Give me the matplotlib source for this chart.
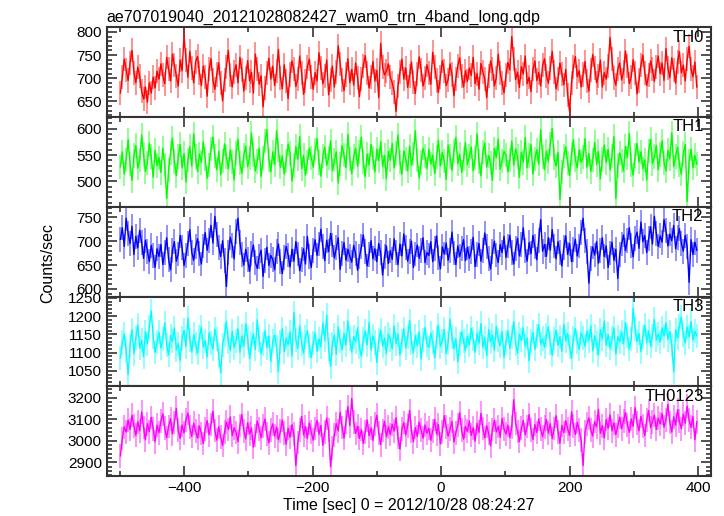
import numpy as np
import matplotlib
matplotlib.use("Agg")
import matplotlib.pyplot as plt
from matplotlib.ticker import MultipleLocator

plt.rcParams['font.family'] = ['Liberation Sans', 'DejaVu Sans']

title = "ae707019040_20121028082427_wam0_trn_4band_long.qdp"
xlabel = "Time [sec] 0 = 2012/10/28 08:24:27"
ylabel = "Counts/sec"
band_names = ["TH0", "TH1", "TH2", "TH3", "TH0123"]
t_start = -499.0
bin_step = 3.0

th0 = [668, 702, 741, 718, 695, 733, 760, 712, 690, 724, 705, 672, 655, 681, 648, 690, 668, 702, 679, 715,
       698, 731, 706, 688, 745, 719, 694, 752, 728, 705, 683, 739, 716, 792, 740, 702, 758, 721, 690, 735,
       747, 712, 684, 726, 703, 661, 719, 742, 695, 676, 708, 733, 689, 651, 697, 724, 760, 706, 681, 713,
       729, 690, 745, 717, 672, 701, 738, 694, 713, 668, 752, 720, 687, 705, 638, 679, 711, 743, 698, 726,
       684, 715, 762, 701, 677, 729, 694, 656, 708, 737, 719, 682, 699, 748, 711, 665, 693, 725, 741, 703,
       676, 712, 694, 755, 722, 688, 705, 739, 664, 697, 726, 681, 714, 770, 731, 696, 673, 708, 742, 690,
       719, 685, 733, 701, 660, 698, 727, 749, 712, 679, 703, 736, 694, 717, 658, 775, 724, 707, 715, 731,
       702, 690, 671, 628, 684, 713, 741, 698, 722, 680, 705, 735, 691, 667, 709, 746, 718, 683, 700, 729,
       711, 687, 756, 724, 695, 670, 703, 738, 715, 684, 697, 731, 708, 662, 699, 727, 744, 705, 681, 716,
       693, 722, 706, 745, 688, 710, 676, 732, 714, 699, 658, 705, 737, 720, 683, 701, 752, 712, 690, 668,
       706, 734, 718, 790, 741, 697, 713, 680, 725, 709, 748, 688, 702, 671, 719, 737, 695, 712, 683, 728,
       742, 705, 689, 721, 758, 714, 677, 698, 733, 710, 686, 719, 664, 628, 690, 725, 747, 703, 716, 681,
       708, 736, 694, 672, 717, 751, 723, 690, 705, 739, 681, 712, 698, 726, 788, 742, 701, 685, 719, 733,
       696, 714, 759, 727, 688, 703, 740, 711, 666, 695, 728, 750, 712, 684, 706, 737, 719, 693, 724, 748,
       710, 733, 695, 764, 722, 701, 744, 718, 689, 736, 757, 712, 728, 694, 741, 769, 720, 703, 735, 681]

th1 = [528, 556, 514, 541, 579, 533, 502, 549, 568, 525, 540, 588, 551, 519, 535, 572, 547, 508, 559, 530,
       545, 517, 563, 531, 468, 522, 554, 582, 538, 511, 547, 570, 526, 553, 499, 541, 566, 529, 590, 547,
       519, 552, 536, 575, 543, 506, 531, 562, 584, 548, 522, 557, 513, 539, 571, 546, 524, 560, 537, 503,
       554, 580, 535, 516, 549, 567, 528, 545, 592, 551, 520, 538, 563, 509, 544, 576, 598, 541, 518, 556,
       532, 596, 559, 527, 548, 514, 539, 571, 553, 501, 530, 566, 542, 585, 524, 549, 512, 537, 563, 545,
       527, 559, 581, 536, 510, 548, 565, 530, 545, 577, 521, 540, 556, 497, 533, 568, 550, 526, 589, 542,
       515, 547, 563, 529, 556, 584, 538, 509, 552, 531, 570, 545, 518, 561, 539, 575, 528, 549, 505, 557,
       540, 572, 526, 553, 588, 537, 514, 558, 543, 520, 567, 531, 552, 596, 541, 507, 536, 563, 548, 524,
       561, 533, 550, 515, 546, 578, 529, 555, 539, 504, 569, 547, 521, 558, 583, 534, 551, 517, 542, 574,
       532, 548, 565, 520, 544, 590, 538, 511, 556, 573, 527, 549, 535, 502, 562, 545, 580, 523, 539, 557,
       550, 518, 541, 576, 531, 562, 547, 508, 555, 536, 583, 526, 549, 570, 514, 543, 560, 533, 598, 546,
       523, 557, 538, 571, 600, 544, 529, 555, 466, 518, 548, 566, 535, 511, 552, 579, 541, 526, 560, 537,
       546, 581, 527, 553, 519, 540, 574, 532, 557, 505, 543, 569, 536, 561, 522, 548, 585, 468, 530, 554,
       539, 520, 566, 545, 591, 531, 512, 549, 572, 537, 556, 524, 541, 503, 558, 580, 534, 547, 568, 522,
       551, 577, 536, 520, 559, 543, 592, 528, 547, 565, 531, 514, 553, 570, 462, 538, 561, 526, 549, 533]

th2 = [704, 728, 689, 748, 716, 695, 731, 672, 710, 686, 723, 698, 664, 702, 679, 657, 691, 670, 645, 684,
       668, 693, 651, 676, 707, 662, 640, 681, 699, 658, 673, 712, 686, 649, 670, 695, 724, 677, 660, 688,
       705, 674, 652, 690, 718, 681, 702, 733, 696, 752, 714, 687, 668, 701, 659, 605, 676, 708, 691, 663,
       721, 748, 697, 672, 650, 683, 661, 637, 674, 692, 655, 643, 668, 681, 626, 659, 687, 649, 670, 662,
       640, 678, 694, 657, 632, 665, 689, 671, 646, 683, 658, 699, 673, 638, 661, 684, 652, 710, 667, 645,
       681, 703, 670, 694, 725, 688, 659, 702, 678, 716, 692, 665, 686, 707, 641, 674, 697, 660, 683, 668,
       656, 691, 674, 639, 667, 688, 713, 679, 648, 672, 701, 663, 684, 657, 695, 676, 629, 668, 690, 653,
       680, 662, 705, 677, 651, 694, 669, 715, 686, 658, 679, 700, 645, 673, 692, 664, 681, 707, 655, 676,
       670, 699, 657, 684, 711, 666, 642, 688, 673, 696, 660, 680, 719, 675, 651, 690, 668, 684, 703, 659,
       687, 664, 679, 708, 647, 672, 695, 658, 681, 717, 689, 663, 642, 678, 700, 671, 655, 693, 676, 710,
       666, 690, 712, 677, 652, 684, 706, 669, 693, 728, 681, 658, 697, 674, 712, 688, 661, 702, 745, 679,
       693, 668, 707, 681, 724, 690, 663, 699, 676, 648, 686, 711, 672, 695, 657, 683, 704, 669, 690, 718,
       748, 702, 679, 612, 664, 688, 671, 699, 654, 681, 707, 668, 690, 645, 675, 698, 660, 683, 622, 672,
       694, 713, 680, 702, 728, 691, 667, 706, 719, 685, 740, 699, 712, 676, 705, 730, 694, 752, 716, 689,
       711, 698, 745, 722, 690, 715, 701, 733, 684, 708, 726, 695, 679, 712, 688, 614, 703, 672, 698, 681]

th3 = [1085, 1128, 1152, 1106, 1040, 1119, 1163, 1097, 1141, 1176, 1112, 1134, 1089, 1158, 1124, 1170, 1215, 1143, 1101, 1129,
       1156, 1113, 1138, 1182, 1120, 1094, 1147, 1131, 1168, 1108, 1125, 1079, 1139, 1161, 1117, 1195, 1136, 1102, 1150, 1123,
       1099, 1142, 1171, 1116, 1133, 1088, 1154, 1127, 1110, 1164, 1137, 1093, 1045, 1121, 1148, 1185, 1130, 1106, 1159, 1114,
       1132, 1167, 1101, 1145, 1118, 1179, 1139, 1084, 1126, 1152, 1109, 1190, 1135, 1097, 1123, 1160, 1114, 1146, 1076, 1131,
       1148, 1115, 1048, 1129, 1166, 1103, 1140, 1122, 1157, 1091, 1210, 1136, 1112, 1174, 1125, 1099, 1143, 1160, 1118, 1087,
       1127, 1155, 1104, 1138, 1116, 1181, 1134, 1202, 1111, 1062, 1125, 1149, 1096, 1170, 1132, 1108, 1153, 1121, 1187, 1139,
       1102, 1144, 1130, 1168, 1115, 1090, 1137, 1159, 1121, 1183, 1107, 1146, 1128, 1073, 1134, 1162, 1118, 1140, 1097, 1151,
       1136, 1110, 1173, 1124, 1150, 1094, 1131, 1165, 1113, 1142, 1188, 1126, 1100, 1147, 1119, 1157, 1083, 1135, 1169, 1122,
       1114, 1153, 1129, 1086, 1140, 1176, 1117, 1133, 1164, 1098, 1127, 1192, 1143, 1111, 1138, 1075, 1125, 1158, 1132, 1106,
       1145, 1121, 1167, 1138, 1101, 1154, 1126, 1180, 1115, 1141, 1092, 1163, 1130, 1149, 1107, 1172, 1136, 1119, 1158, 1087,
       1128, 1160, 1112, 1143, 1185, 1124, 1099, 1151, 1134, 1169, 1118, 1140, 1078, 1131, 1156, 1109, 1146, 1177, 1123, 1139,
       1115, 1148, 1171, 1127, 1093, 1137, 1162, 1120, 1144, 1104, 1178, 1133, 1152, 1116, 1085, 1141, 1166, 1129, 1109, 1155,
       1140, 1118, 1159, 1133, 1174, 1105, 1147, 1126, 1094, 1163, 1138, 1186, 1121, 1150, 1112, 1139, 1168, 1097, 1144, 1130,
       1157, 1124, 1183, 1146, 1110, 1137, 1222, 1165, 1131, 1153, 1103, 1142, 1176, 1128, 1160, 1119, 1147, 1191, 1135, 1152,
       1129, 1168, 1145, 1182, 1136, 1158, 1121, 1048, 1163, 1140, 1174, 1198, 1149, 1127, 1170, 1143, 1186, 1134, 1159, 1146]

th0123 = [2930, 3010, 3065, 3040, 3095, 3052, 3118, 3070, 3025, 3088, 3046, 3133, 3061, 3004, 3079, 3042, 3108, 3056, 2995, 3072,
          3037, 3090, 3125, 3058, 3014, 3066, 3102, 3031, 3084, 3150, 3049, 3011, 3073, 3036, 3097, 3128, 3062, 3020, 3081, 3045,
          3012, 3069, 3034, 2987, 3056, 3093, 3028, 3075, 3137, 3047, 3003, 3065, 3018, 2978, 3041, 3086, 3052, 3110, 3024, 3060,
          3038, 2996, 3071, 3121, 3046, 3009, 3083, 3032, 3059, 2971, 3024, 3092, 3055, 3014, 3068, 3101, 3030, 2990, 3050, 3078,
          3022, 3063, 3005, 3044, 3096, 3037, 2984, 3058, 3016, 3074, 3031, 2885, 2992, 3049, 3113, 3027, 3066, 3010, 3082, 3041,
          3003, 3057, 3094, 3030, 3071, 2979, 3039, 3105, 3048, 2880, 2968, 3026, 3079, 3045, 3132, 3061, 3012, 3088, 3158, 3070,
          3195, 3085, 3034, 3067, 3011, 3052, 2988, 3040, 3096, 3023, 3059, 3001, 3077, 3118, 3036, 2982, 3047, 3090, 3019, 3064,
          3029, 3076, 3045, 3107, 3015, 2961, 3053, 3084, 3027, 3069, 3140, 3043, 2996, 3061, 3020, 3087, 3050, 3012, 3073, 3035,
          3058, 3002, 3046, 3099, 3031, 3075, 2985, 3040, 3116, 3063, 3021, 3054, 3089, 2994, 3037, 3072, 3130, 3048, 3008, 3066,
          3044, 3091, 3025, 3060, 2998, 3081, 3039, 3127, 3057, 3013, 3070, 3034, 2976, 3052, 3095, 3041, 3066, 3017, 3103, 3055,
          3031, 3072, 3015, 3063, 3190, 3080, 3043, 2997, 3058, 3094, 3027, 3066, 3121, 3049, 3006, 3075, 3038, 3101, 3053, 3019,
          3062, 3098, 3035, 3079, 3010, 3057, 3116, 3042, 2989, 3071, 3038, 3093, 3056, 3024, 3134, 3067, 3029, 3085, 3048, 3003,
          2885, 3040, 3076, 3106, 3051, 3022, 3089, 3064, 3145, 3035, 3070, 3013, 3098, 3057, 3120, 3046, 3083, 3028, 3068, 3109,
          3055, 3092, 3131, 3074, 3038, 3101, 3067, 3154, 3082, 3046, 3113, 3070, 3024, 3096, 3140, 3061, 3088, 3119, 3052, 3105,
          3078, 3126, 3063, 3097, 3168, 3084, 3040, 3111, 3072, 3143, 3090, 3056, 3123, 3081, 3160, 3095, 3062, 3112, 3005, 3087]

errors = [26, 23, 26, 33, 55]

series = [th0, th1, th2, th3, th0123]
colors = ["#ff0000", "#00ff00", "#0000ff", "#00ffff", "#ff00ff"]
ylims = [(616, 810), (452, 622), (584, 772), (1008, 1254), (2837, 3252)]
ymajor = [50, 50, 50, 50, 100]
yminor = [10, 10, 10, 10, 20]

fig = plt.figure(figsize=(7.24, 5.16), dpi=100)
left, width = 0.1474, 0.8343
bottom0, top0 = 0.0775, 0.9471
h = (top0 - bottom0) / 5
spine_col = "#333333"

axes = []
for k in range(5):
    ax = fig.add_axes([left, top0 - (k + 1) * h, width, h])
    y = np.array(series[k], dtype=float)
    t = t_start + bin_step * np.arange(len(y))
    ax.errorbar(t, y, yerr=errors[k], fmt='none', ecolor=colors[k], alpha=0.5, elinewidth=1.2, capsize=0)
    ax.plot(t, y, color=colors[k], lw=1.0)
    ax.set_xlim(-520.3, 419.7)
    ax.set_ylim(*ylims[k])
    ax.yaxis.set_major_locator(MultipleLocator(ymajor[k]))
    ax.yaxis.set_minor_locator(MultipleLocator(yminor[k]))
    ax.xaxis.set_major_locator(MultipleLocator(200))
    ax.xaxis.set_minor_locator(MultipleLocator(100))
    ax.tick_params(which='both', direction='in', top=True, right=True, colors=spine_col,
                   labelcolor='black', labelsize=11, width=1.2)
    ax.tick_params(which='major', length=7)
    ax.tick_params(which='minor', length=3.5)
    for s in ax.spines.values():
        s.set_color(spine_col)
        s.set_linewidth(1.5)
    if k < 4:
        ax.tick_params(labelbottom=False)
    ax.text(0.988, 0.975, band_names[k], transform=ax.transAxes, ha='right', va='top',
            fontsize=12, color='black')
    axes.append(ax)

axes[0].set_title(title, loc='left', fontsize=11.5, pad=4)
axes[4].set_xlabel(xlabel, fontsize=11.5, labelpad=2)
fig.text(0.066, 0.49, ylabel, rotation=90, ha='center', va='center', fontsize=11.5)

fig.savefig("out.png", dpi=100)
